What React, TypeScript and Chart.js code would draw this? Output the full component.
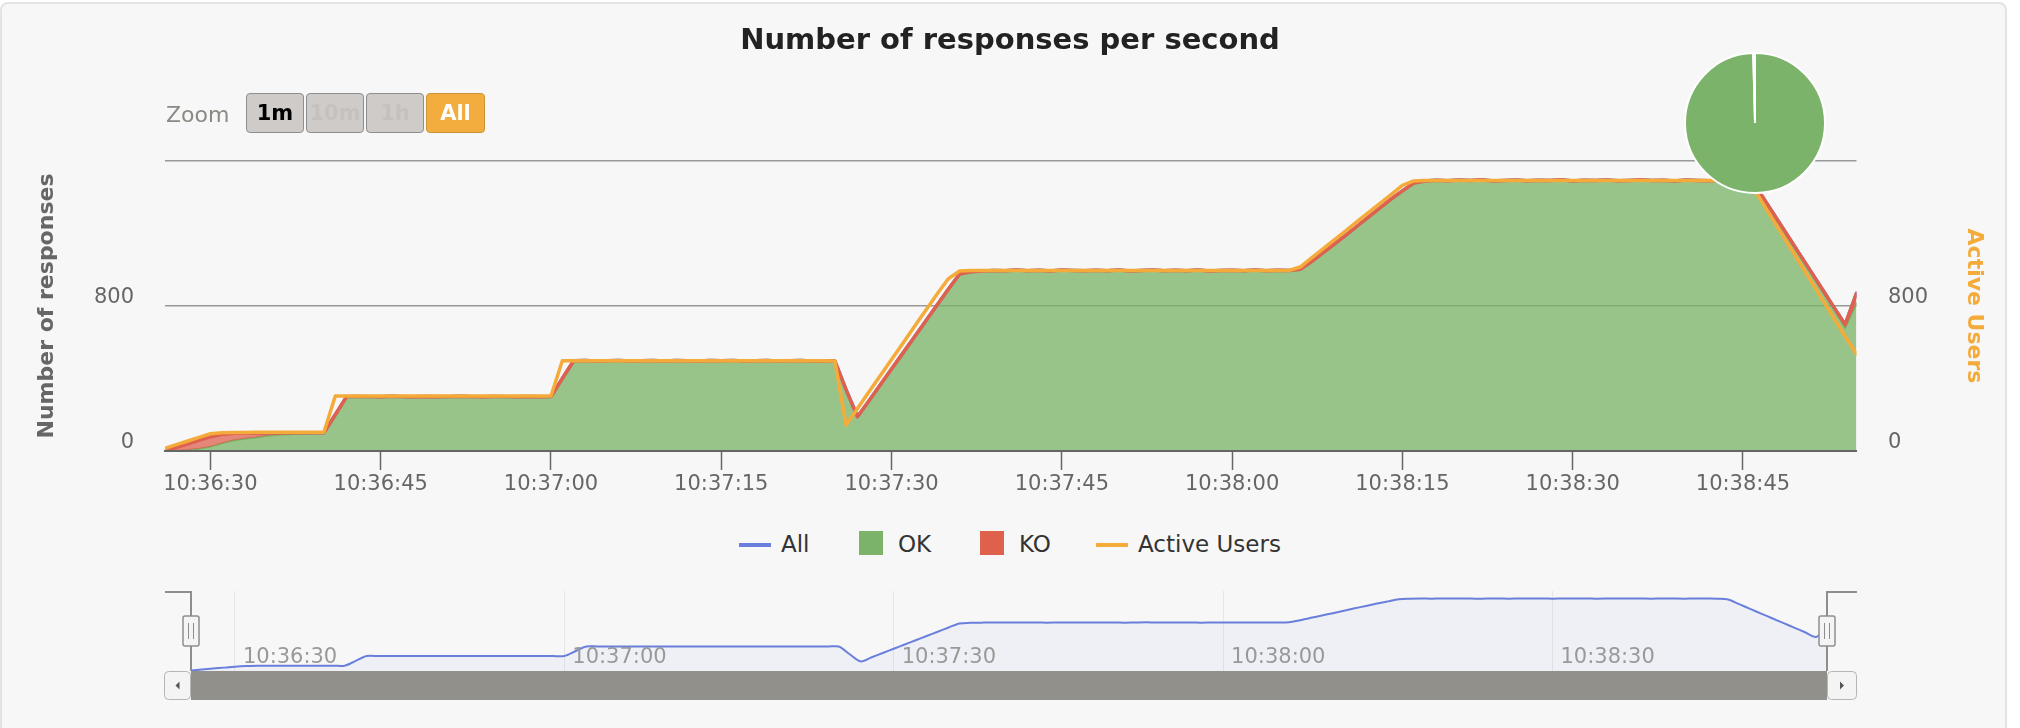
import React, { useEffect, useRef } from 'react';
import { Chart, registerables } from 'chart.js';

Chart.register(...registerables);

const FONT = 'DejaVu Sans';
const START_TIME = '10:36:26';

// responses per second (one value per second from START_TIME)
const okValues = [
  0, 2, 5, 12, 24, 42, 58, 68, 75, 84, 89, 93, 96, 98, 100,
  200, 298, 301, 300, 299, 302, 300, 300, 301, 299, 300, 302, 300, 299, 301,
  300, 300, 301, 299, 300, 400, 496, 499, 497, 498, 500, 497, 498, 499, 497,
  499, 498, 497, 499, 498, 500, 497, 498, 499, 497, 498, 499, 497, 498, 497,
  337, 189, 276, 364, 452, 540, 628, 716, 804, 892, 977, 989, 993, 996, 994,
  998, 995, 997, 993, 998, 996, 994, 997, 995, 998, 993, 996, 999, 994, 997,
  995, 998, 993, 996, 997, 994, 998, 995, 997, 996, 1003, 1045, 1093, 1142, 1190,
  1240, 1290, 1340, 1390, 1435, 1478, 1490, 1494, 1491, 1495, 1492, 1496, 1490, 1493, 1495,
  1491, 1494, 1492, 1496, 1490, 1494, 1492, 1495, 1491, 1493, 1496, 1492, 1494, 1490, 1495,
  1493, 1491, 1494, 1492, 1490, 1466, 1368, 1270, 1173, 1076, 979, 882, 784, 680, 815,
];

const koValues = [
  0, 18, 35, 48, 55, 50, 40, 32, 25, 17, 12, 8, 5, 3, 1,
  0, 2, 0, 0, 0, 0, 0, 0, 0, 0, 0, 0, 0, 0, 0,
  0, 0, 0, 0, 0, 0, 2, 0, 0, 0, 0, 0, 0, 0, 0,
  0, 0, 0, 0, 0, 0, 0, 0, 0, 0, 0, 0, 0, 0, 0,
  0, 0, 0, 0, 0, 0, 0, 0, 0, 0, 0, 0, 0, 0, 0,
  0, 0, 0, 0, 0, 0, 0, 0, 0, 0, 0, 0, 0, 0, 0,
  0, 0, 0, 0, 0, 0, 0, 0, 0, 0, 0, 0, 0, 0, 0,
  0, 0, 0, 0, 0, 0, 0, 0, 0, 0, 0, 0, 0, 0, 0,
  0, 0, 0, 0, 0, 0, 0, 0, 0, 0, 0, 0, 0, 0, 0,
  0, 0, 0, 0, 0, 7, 8, 9, 9, 9, 9, 9, 10, 17, 55,
];

const activeUsers = [
  15, 35, 55, 75, 95, 101, 102, 102, 103, 103, 103, 103, 103, 103, 103,
  303, 303, 303, 303, 303, 303, 303, 303, 303, 303, 303, 303, 303, 303, 303,
  303, 303, 303, 303, 303, 498, 498, 498, 498, 498, 498, 498, 498, 498, 498,
  498, 498, 498, 498, 498, 498, 498, 498, 498, 498, 498, 498, 498, 498, 497,
  143, 235, 325, 415, 505, 595, 685, 775, 865, 950, 993, 996, 996, 996, 996,
  996, 996, 996, 996, 996, 996, 996, 996, 996, 996, 996, 996, 996, 996, 996,
  996, 996, 996, 996, 996, 996, 996, 996, 996, 996, 1015, 1065, 1115, 1165, 1215,
  1265, 1315, 1365, 1415, 1465, 1490, 1492, 1492, 1492, 1492, 1492, 1492, 1492, 1492, 1492,
  1492, 1492, 1492, 1492, 1492, 1492, 1492, 1492, 1492, 1492, 1492, 1492, 1492, 1492, 1492,
  1492, 1492, 1492, 1492, 1492, 1445, 1340, 1239, 1138, 1037, 936, 835, 734, 633, 535,
];

const yAxisMax = 1600;
const yAxisStep = 800;
const mainTickStepSec = 15;
const navTickStepSec = 30;
const zoomButtons = ['1m', '10m', '1h', 'All'];

const COLORS = {
  all: '#6a7fdc',
  ok: '#7cb36b',
  okLine: '#78b366',
  okFill: 'rgba(120,179,102,0.75)',
  ko: '#e0604e',
  koFill: 'rgba(224,96,78,0.75)',
  users: '#f4ab3a',
};

const toSec = (t: string) => {
  const [h, m, s] = t.split(':').map(Number);
  return h * 3600 + m * 60 + s;
};
const pad = (n: number) => (n < 10 ? '0' : '') + n;
const fmt = (v: number) => {
  const s = Math.round(v);
  return `${Math.floor(s / 3600)}:${pad(Math.floor((s % 3600) / 60))}:${pad(s % 60)}`;
};

const T0 = toSec(START_TIME);
const T1 = T0 + okValues.length - 1;
const times = okValues.map((_, i) => T0 + i);

const stepTicks = (step: number) => {
  const out: { value: number }[] = [];
  for (let v = Math.ceil(T0 / step) * step; v <= T1; v += step) out.push({ value: v });
  return out;
};

const okPts = times.map((x, i) => ({ x, y: okValues[i] }));
const allPts = times.map((x, i) => ({ x, y: okValues[i] + koValues[i] }));
const userPts = times.map((x, i) => ({ x, y: activeUsers[i] }));
const okTotal = okValues.reduce((a, b) => a + b, 0);
const koTotal = koValues.reduce((a, b) => a + b, 0);

const tickFont = { family: FONT, size: 21, lineHeight: 1 };

const mainConfig: any = {
  type: 'line',
  data: {
    datasets: [
      { label: 'All', data: allPts, borderColor: COLORS.all, borderWidth: 3.5, fill: false, order: 4 },
      {
        label: 'OK', data: okPts, borderColor: COLORS.okLine, backgroundColor: COLORS.okFill,
        borderWidth: 2, fill: 'origin', order: 3,
      },
      {
        label: 'KO', data: allPts, borderColor: COLORS.ko, backgroundColor: COLORS.koFill,
        borderWidth: 3.5, fill: 1, order: 2,
      },
      {
        label: 'Active Users', data: userPts, yAxisID: 'y2', borderColor: COLORS.users,
        borderWidth: 3.5, fill: false, order: 1,
      },
    ],
  },
  options: {
    animation: false,
    responsive: false,
    devicePixelRatio: 1,
    events: [],
    layout: { padding: 0 },
    elements: {
      point: { radius: 0 },
      line: { tension: 0, borderJoinStyle: 'round', borderCapStyle: 'round' },
    },
    plugins: {
      legend: { display: false },
      tooltip: { enabled: false },
      title: {
        display: true,
        text: 'Number of responses per second',
        color: '#222',
        font: { family: FONT, size: 29, weight: 'bold', lineHeight: 1 },
        padding: { top: 27, bottom: 105 },
      },
    },
    scales: {
      x: {
        type: 'linear',
        min: T0,
        max: T1,
        afterBuildTicks: (s: any) => { s.ticks = stepTicks(mainTickStepSec); },
        afterFit: (s: any) => { s.height = 49; },
        grid: { drawOnChartArea: false, drawTicks: true, tickLength: 19, tickColor: '#666', tickWidth: 1.5, z: 1 },
        border: { color: '#666', width: 2, z: 1 },
        ticks: {
          callback: (v: any) => fmt(Number(v)),
          font: tickFont, color: '#666', padding: 4, maxRotation: 0, autoSkip: false, z: 1,
        },
      },
      y: {
        position: 'left',
        min: 0,
        max: yAxisMax,
        afterFit: (s: any) => { s.width = 165; },
        grid: { color: '#999', lineWidth: 1.5, drawTicks: false },
        border: { display: false },
        ticks: {
          stepSize: yAxisStep,
          callback: (v: any) => (Number(v) >= yAxisMax ? '' : String(v)),
          font: tickFont, color: '#666', padding: 31, labelOffset: -8,
        },
        title: {
          display: true, text: 'Number of responses', color: '#666',
          font: { family: FONT, size: 22, weight: 'bold', lineHeight: 1.2 },
          padding: { top: 34.5, bottom: 0 },
        },
      },
      y2: {
        position: 'right',
        min: 0,
        max: yAxisMax,
        afterFit: (s: any) => { s.width = 163.5; },
        grid: { drawOnChartArea: false, drawTicks: false },
        border: { display: false },
        ticks: {
          stepSize: yAxisStep,
          callback: (v: any) => (Number(v) >= yAxisMax ? '' : String(v)),
          font: tickFont, color: '#666', padding: 31.5, labelOffset: -8,
        },
        title: {
          display: true, text: 'Active Users', color: COLORS.users,
          font: { family: FONT, size: 22, weight: 'bold', lineHeight: 1.2 },
          padding: { top: 33.5, bottom: 0 },
        },
      },
    },
  },
};

const pieConfig: any = {
  type: 'pie',
  data: {
    labels: ['OK', 'KO'],
    datasets: [{
      data: [okTotal, koTotal],
      backgroundColor: [COLORS.ok, COLORS.ko],
      borderColor: '#ffffff',
      borderWidth: 2,
    }],
  },
  options: {
    animation: false, responsive: false, devicePixelRatio: 1, events: [],
    layout: { padding: 0 },
    plugins: { legend: { display: false }, tooltip: { enabled: false } },
  },
};

const roundRect = (ctx: CanvasRenderingContext2D, x: number, y: number, w: number, h: number, r: number) => {
  ctx.beginPath();
  ctx.moveTo(x + r, y);
  ctx.lineTo(x + w - r, y);
  ctx.quadraticCurveTo(x + w, y, x + w, y + r);
  ctx.lineTo(x + w, y + h - r);
  ctx.quadraticCurveTo(x + w, y + h, x + w - r, y + h);
  ctx.lineTo(x + r, y + h);
  ctx.quadraticCurveTo(x, y + h, x, y + h - r);
  ctx.lineTo(x, y + r);
  ctx.quadraticCurveTo(x, y, x + r, y);
  ctx.closePath();
};

const navDecor = {
  id: 'navDecor',
  afterDraw(chart: any) {
    const { ctx, chartArea: a, scales } = chart;
    const x = scales.x;
    ctx.save();
    // time labels inside navigator
    ctx.font = `21px "${FONT}"`;
    ctx.fillStyle = '#999';
    ctx.textAlign = 'left';
    ctx.textBaseline = 'middle';
    x.ticks.forEach((t: any) => ctx.fillText(fmt(t.value), x.getPixelForValue(t.value) + 8, a.top + 67));
    // scrollbar thumb
    const sbTop = a.bottom;
    const sbH = 29;
    ctx.fillStyle = '#91908b';
    ctx.fillRect(a.left, sbTop, a.right - a.left, sbH);
    // scrollbar buttons
    const btn = (bx: number, bw: number, dir: number) => {
      roundRect(ctx, bx + 0.5, sbTop + 0.5, bw - 1, sbH - 1, 4);
      ctx.fillStyle = '#f4f4f4';
      ctx.fill();
      ctx.strokeStyle = '#b5b5b5';
      ctx.lineWidth = 1;
      ctx.stroke();
      const cx = bx + bw / 2;
      const cy = sbTop + sbH / 2;
      ctx.beginPath();
      ctx.moveTo(cx - 2 * dir, cy);
      ctx.lineTo(cx + 2 * dir, cy - 4);
      ctx.lineTo(cx + 2 * dir, cy + 4);
      ctx.closePath();
      ctx.fillStyle = '#555';
      ctx.fill();
    };
    btn(a.left - 27, 27, 1);
    btn(a.right, 30, -1);
    // outline
    ctx.strokeStyle = '#8e8e8e';
    ctx.lineWidth = 2;
    ctx.beginPath();
    ctx.moveTo(a.left - 26, a.top + 1);
    ctx.lineTo(a.left, a.top + 1);
    ctx.lineTo(a.left, a.bottom);
    ctx.moveTo(a.right, a.bottom);
    ctx.lineTo(a.right, a.top + 1);
    ctx.lineTo(a.right + 30, a.top + 1);
    ctx.stroke();
    // handles
    const handle = (hx: number) => {
      roundRect(ctx, hx - 8, a.top + 25, 16, 30, 2);
      ctx.fillStyle = '#f4f4f4';
      ctx.fill();
      ctx.strokeStyle = '#8e8e8e';
      ctx.lineWidth = 1.5;
      ctx.stroke();
      ctx.lineWidth = 1;
      ctx.beginPath();
      ctx.moveTo(hx - 2.5, a.top + 32);
      ctx.lineTo(hx - 2.5, a.top + 48);
      ctx.moveTo(hx + 2.5, a.top + 32);
      ctx.lineTo(hx + 2.5, a.top + 48);
      ctx.stroke();
    };
    handle(a.left);
    handle(a.right);
    ctx.restore();
  },
};

const navConfig: any = {
  type: 'line',
  data: {
    datasets: [{
      label: 'All', data: allPts, borderColor: COLORS.all, borderWidth: 2,
      backgroundColor: 'rgba(106,127,220,0.05)', fill: 'start', tension: 0.3, pointRadius: 0,
    }],
  },
  options: {
    animation: false, responsive: false, devicePixelRatio: 1, events: [],
    layout: { padding: { left: 191, right: 193, top: 11, bottom: 37 } },
    plugins: { legend: { display: false }, tooltip: { enabled: false } },
    scales: {
      x: {
        type: 'linear', min: T0, max: T1,
        afterBuildTicks: (s: any) => { s.ticks = stepTicks(navTickStepSec); },
        afterFit: (s: any) => { s.height = 0; },
        grid: { color: '#e6e6e6', lineWidth: 1, drawTicks: false },
        border: { display: false },
        ticks: { display: false },
      },
      y: { display: false, min: -10, max: 1650 },
    },
  },
  plugins: [navDecor],
};

const textBase: React.CSSProperties = {
  position: 'absolute',
  fontFamily: FONT,
  whiteSpace: 'nowrap',
  lineHeight: '30px',
};

const legendItems = [
  { label: 'All', color: COLORS.all, kind: 'line', symX: 739, textX: 781 },
  { label: 'OK', color: COLORS.ok, kind: 'box', symX: 859, textX: 898 },
  { label: 'KO', color: COLORS.ko, kind: 'box', symX: 980, textX: 1019 },
  { label: 'Active Users', color: COLORS.users, kind: 'line', symX: 1096, textX: 1138 },
];

const buttonLefts = [246, 306, 366, 426];

export default function App() {
  const mainRef = useRef<HTMLCanvasElement>(null);
  const pieRef = useRef<HTMLCanvasElement>(null);
  const navRef = useRef<HTMLCanvasElement>(null);

  useEffect(() => {
    const charts = [
      new Chart(mainRef.current as HTMLCanvasElement, mainConfig),
      new Chart(navRef.current as HTMLCanvasElement, navConfig),
      new Chart(pieRef.current as HTMLCanvasElement, pieConfig),
    ];
    return () => charts.forEach((c) => c.destroy());
  }, []);

  return (
    <div style={{ position: 'fixed', left: 0, top: 0, width: 2020, height: 728, background: '#fff', overflow: 'hidden' }}>
      <div
        style={{
          position: 'absolute', left: 0, top: 2, width: 2007, height: 745, boxSizing: 'border-box',
          border: '2px solid #e3e3e3', borderRadius: 8, background: '#f7f7f7',
        }}
      />
      <canvas ref={mainRef} width={2020} height={500} style={{ position: 'absolute', left: 0, top: 0, width: 2020, height: 500 }} />
      <canvas ref={navRef} width={2020} height={128} style={{ position: 'absolute', left: 0, top: 580, width: 2020, height: 128 }} />
      <canvas ref={pieRef} width={142} height={142} style={{ position: 'absolute', left: 1684, top: 52, width: 142, height: 142 }} />

      <div style={{ ...textBase, left: 166, top: 100, fontSize: 22, color: '#8a8a84' }}>Zoom</div>
      {zoomButtons.map((b, i) => {
        const selected = b === 'All';
        const enabled = b === '1m' || selected;
        return (
          <div
            key={b}
            style={{
              position: 'absolute', left: buttonLefts[i], top: 93, width: i === 3 ? 59 : 58, height: 40,
              boxSizing: 'border-box', borderRadius: 4,
              border: `1px solid ${selected ? '#c99434' : '#8e8e8e'}`,
              background: selected ? '#f3ad3e' : '#cfcbc8',
              color: selected ? '#fff' : enabled ? '#000' : '#c5c1be',
              fontFamily: FONT, fontWeight: 'bold', fontSize: 21,
              display: 'flex', alignItems: 'center', justifyContent: 'center',
            }}
          >
            {b}
          </div>
        );
      })}

      {legendItems.map((it) => (
        <React.Fragment key={it.label}>
          {it.kind === 'line' ? (
            <div style={{ position: 'absolute', left: it.symX, top: 543, width: 32, height: 3.5, background: it.color }} />
          ) : (
            <div style={{ position: 'absolute', left: it.symX, top: 531, width: 24, height: 24, background: it.color }} />
          )}
          <div style={{ ...textBase, left: it.textX, top: 529, fontSize: 23, color: '#333' }}>{it.label}</div>
        </React.Fragment>
      ))}
    </div>
  );
}
